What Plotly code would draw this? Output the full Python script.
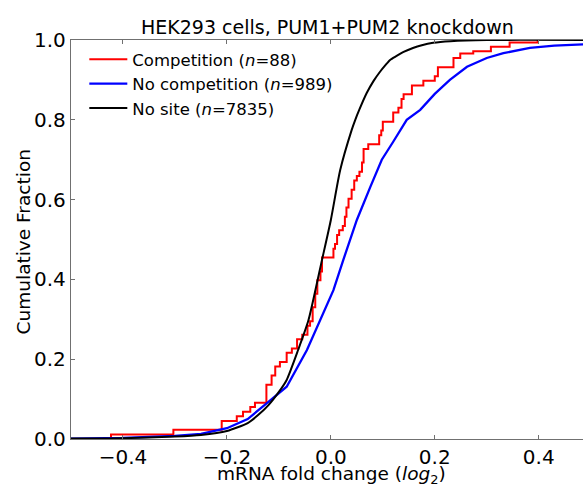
import plotly.graph_objects as go

# ---- data (approximate) ----
nosite_x = [-0.5, -0.4, -0.3, -0.25, -0.2, -0.16, -0.14, -0.12, -0.1, -0.085, -0.063, -0.043, -0.017,
            0.0, 0.018, 0.04, 0.047, 0.055, 0.069, 0.082, 0.095, 0.105, 0.114, 0.125, 0.14, 0.158,
            0.175, 0.197, 0.23, 0.3, 0.5]
nosite_y = [0.001, 0.002, 0.006, 0.01, 0.02, 0.04, 0.06, 0.085, 0.118, 0.148, 0.223, 0.298, 0.449,
            0.549, 0.674, 0.774, 0.8, 0.826, 0.867, 0.897, 0.921, 0.937, 0.95, 0.959, 0.97, 0.98,
            0.987, 0.993, 0.997, 1.0, 1.0]

nocomp_x = [-0.5, -0.4, -0.3, -0.25, -0.2, -0.16, -0.123, -0.085, -0.046, -0.021, 0.005, 0.024, 0.05,
            0.076, 0.098, 0.12, 0.146, 0.172, 0.2, 0.229, 0.262, 0.3, 0.332, 0.383, 0.43, 0.5]
nocomp_y = [0.001, 0.003, 0.008, 0.013, 0.027, 0.05, 0.09, 0.131, 0.223, 0.298, 0.373, 0.449, 0.549,
            0.632, 0.7, 0.745, 0.8, 0.825, 0.865, 0.9, 0.933, 0.955, 0.967, 0.98, 0.986, 0.99]

comp_x = [-0.423, -0.423, -0.303, -0.21, -0.181, -0.169, -0.155, -0.146, -0.124, -0.114, -0.107, -0.098,
          -0.085, -0.075, -0.065, -0.055, -0.045, -0.04, -0.035, -0.03, -0.026, -0.02, -0.017, 0.005,
          0.008, 0.012, 0.016, 0.023, 0.027, 0.03, 0.034, 0.04, 0.045, 0.05, 0.055, 0.06, 0.063, 0.072,
          0.093, 0.097, 0.1, 0.12, 0.13, 0.136, 0.14, 0.156, 0.178, 0.2, 0.206, 0.236, 0.249, 0.274,
          0.308, 0.344, 0.398]
comp_y = [0.0, 0.011, 0.023, 0.045, 0.057, 0.068, 0.080, 0.091, 0.136, 0.159, 0.182, 0.193,
          0.216, 0.227, 0.25, 0.261, 0.284, 0.295, 0.33, 0.364, 0.398, 0.42, 0.455, 0.477,
          0.489, 0.511, 0.523, 0.534, 0.557, 0.58, 0.602, 0.625, 0.648, 0.659, 0.67, 0.693, 0.727, 0.739,
          0.761, 0.773, 0.795, 0.818, 0.83, 0.852, 0.864, 0.886, 0.898, 0.909, 0.932, 0.955, 0.966, 0.972,
          0.983, 0.994, 1.0]

x_ticks = [-0.4, -0.2, 0.0, 0.2, 0.4]
y_ticks = [0.0, 0.2, 0.4, 0.6, 0.8, 1.0]

FONT = "DejaVu Sans"
SPINE = "#707070"

fig = go.Figure()
fig.add_trace(go.Scatter(x=comp_x, y=comp_y, mode="lines", line=dict(color="#ff0000", width=2, shape="hv"),
                         name="Competition (<i>n</i>=88)"))
fig.add_trace(go.Scatter(x=nocomp_x, y=nocomp_y, mode="lines", line=dict(color="#0000ff", width=2.3),
                         name="No competition (<i>n</i>=989)"))
fig.add_trace(go.Scatter(x=nosite_x, y=nosite_y, mode="lines", line=dict(color="#000000", width=2, shape="spline", smoothing=0.6),
                         name="No site (<i>n</i>=7835)"))

fig.update_layout(
    width=583, height=490,
    margin=dict(l=71, r=0, t=40, b=51),
    paper_bgcolor="white", plot_bgcolor="white",
    font=dict(family=FONT, color="black"),
    showlegend=True,
    legend=dict(x=0.026, y=0.995, xanchor="left", yanchor="top", bgcolor="rgba(0,0,0,0)",
                font=dict(size=16.5, family=FONT), tracegroupgap=0, itemwidth=38, borderwidth=0),
    xaxis=dict(range=[-0.5, 0.4852], tickvals=x_ticks, tickformat=".1f", ticks="inside", ticklen=4,
               tickcolor=SPINE, showline=True, linecolor=SPINE, linewidth=1.3, mirror="ticks",
               showgrid=False, zeroline=False, tickfont=dict(size=20)),
    yaxis=dict(range=[0, 1], tickvals=y_ticks, tickformat=".1f", ticks="inside", ticklen=4,
               tickcolor=SPINE, showline=True, linecolor=SPINE, linewidth=1.3,
               showgrid=False, zeroline=False, tickfont=dict(size=20)),
    annotations=[
        dict(text="HEK293 cells, PUM1+PUM2 knockdown", xref="paper", yref="paper",
             x=0.5, y=1, xanchor="center", yanchor="bottom", yshift=0,
             showarrow=False, font=dict(size=19, family=FONT)),
        dict(text="mRNA fold change (<i>log</i><sub>2</sub>)", xref="paper", yref="paper",
             x=0.508, y=-0.0902, xanchor="center", yanchor="middle",
             showarrow=False, font=dict(size=18.5, family=FONT)),
        dict(text="Cumulative Fraction", xref="paper", yref="paper", textangle=-90,
             x=-0.092, y=0.495, xanchor="center", yanchor="middle",
             showarrow=False, font=dict(size=18.5, family=FONT)),
    ],
)

fig.write_html("out.html")
